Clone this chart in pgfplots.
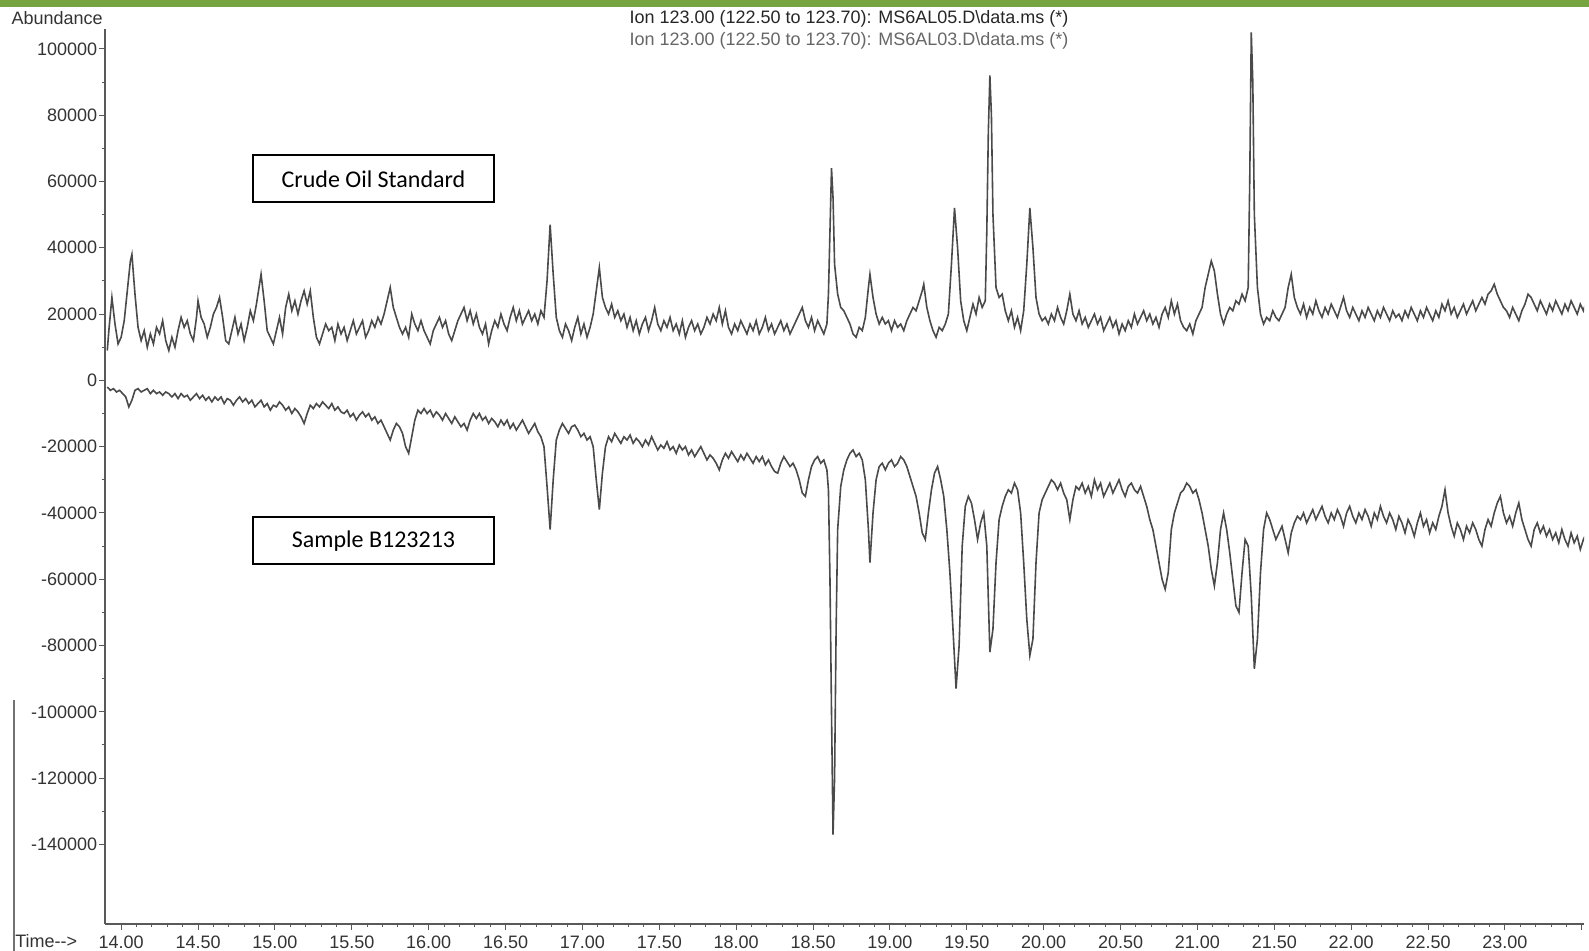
\documentclass[border=0pt]{standalone}
\usepackage{fontspec}
\setmainfont{Liberation Sans}
\newfontfamily\calib{Carlito}
\usepackage{pgfplots}
\usepackage{pgfplotstable}
\pgfplotsset{compat=1.18}
\definecolor{trace}{HTML}{4A4A4A}
\definecolor{txt}{HTML}{333333}
\definecolor{band}{RGB}{118,164,64}

% Crude Oil Standard (MS6AL05), abundance in thousands
\pgfplotstableread[row sep=\\]{t v\\
13.91 9\\ 13.92 15\\ 13.94 25\\ 13.96 17\\ 13.98 11\\ 14.00 13\\ 14.02 18\\ 14.04 27\\ 14.06 36\\ 14.07 38\\
14.09 26\\ 14.11 16\\ 14.13 12\\ 14.15 15\\ 14.17 10\\ 14.19 14\\ 14.21 11\\ 14.23 16\\ 14.25 14\\ 14.27 18\\
14.29 12\\ 14.31 9\\ 14.33 13\\ 14.35 10\\ 14.37 15\\ 14.39 19\\ 14.41 16\\ 14.43 18\\ 14.45 14\\ 14.47 12\\
14.49 19\\ 14.50 24\\ 14.52 19\\ 14.54 17\\ 14.56 13\\ 14.58 16\\ 14.60 20\\ 14.62 22\\ 14.64 25\\ 14.66 19\\
14.68 12\\ 14.70 11\\ 14.72 15\\ 14.74 19\\ 14.76 14\\ 14.78 17\\ 14.80 12\\ 14.82 16\\ 14.84 21\\ 14.86 18\\
14.88 23\\ 14.91 32\\ 14.93 24\\ 14.95 15\\ 14.97 13\\ 14.99 11\\ 15.01 15\\ 15.03 19\\ 15.05 14\\ 15.07 22\\
15.09 26\\ 15.11 21\\ 15.13 24\\ 15.15 20\\ 15.17 24\\ 15.19 27\\ 15.21 23\\ 15.23 27\\ 15.25 19\\ 15.27 13\\
15.29 11\\ 15.31 14\\ 15.33 17\\ 15.35 15\\ 15.37 16\\ 15.39 12\\ 15.41 17\\ 15.43 14\\ 15.45 16\\ 15.47 12\\
15.49 15\\ 15.51 18\\ 15.53 14\\ 15.55 16\\ 15.57 18\\ 15.59 13\\ 15.61 15\\ 15.63 18\\ 15.65 16\\ 15.67 19\\
15.69 17\\ 15.71 20\\ 15.73 24\\ 15.75 28\\ 15.77 22\\ 15.79 19\\ 15.81 16\\ 15.83 14\\ 15.85 16\\ 15.87 13\\
15.89 20\\ 15.91 17\\ 15.93 15\\ 15.95 18\\ 15.97 15\\ 15.99 13\\ 16.01 11\\ 16.03 15\\ 16.05 17\\ 16.07 19\\
16.09 16\\ 16.11 18\\ 16.13 14\\ 16.15 12\\ 16.17 15\\ 16.19 18\\ 16.21 20\\ 16.23 22\\ 16.25 18\\ 16.27 21\\
16.29 17\\ 16.31 20\\ 16.33 16\\ 16.35 14\\ 16.37 17\\ 16.39 11\\ 16.41 15\\ 16.43 18\\ 16.45 16\\ 16.47 20\\
16.49 17\\ 16.51 15\\ 16.53 19\\ 16.55 22\\ 16.57 18\\ 16.59 21\\ 16.61 17\\ 16.63 19\\ 16.65 21\\ 16.67 18\\
16.69 20\\ 16.71 17\\ 16.73 21\\ 16.75 19\\ 16.77 30\\ 16.79 47\\ 16.81 32\\ 16.83 19\\ 16.85 15\\ 16.87 13\\
16.89 17\\ 16.91 15\\ 16.93 12\\ 16.95 16\\ 16.97 19\\ 16.99 14\\ 17.01 17\\ 17.03 13\\ 17.05 16\\ 17.07 20\\
17.09 27\\ 17.11 34\\ 17.13 25\\ 17.15 22\\ 17.17 20\\ 17.19 23\\ 17.21 19\\ 17.23 21\\ 17.25 18\\ 17.27 20\\
17.29 16\\ 17.31 19\\ 17.33 15\\ 17.35 18\\ 17.37 14\\ 17.39 17\\ 17.41 19\\ 17.43 15\\ 17.45 18\\ 17.47 22\\
17.49 17\\ 17.51 15\\ 17.53 18\\ 17.55 16\\ 17.57 19\\ 17.59 15\\ 17.61 17\\ 17.63 14\\ 17.65 18\\ 17.67 13\\
17.69 16\\ 17.71 18\\ 17.73 15\\ 17.75 17\\ 17.77 14\\ 17.79 16\\ 17.81 19\\ 17.83 17\\ 17.85 20\\ 17.87 18\\
17.89 22\\ 17.91 17\\ 17.93 21\\ 17.95 16\\ 17.97 14\\ 17.99 17\\ 18.01 15\\ 18.03 18\\ 18.05 16\\ 18.07 14\\
18.09 17\\ 18.11 15\\ 18.13 18\\ 18.15 14\\ 18.17 16\\ 18.19 19\\ 18.21 15\\ 18.23 17\\ 18.25 14\\ 18.27 16\\
18.29 18\\ 18.31 15\\ 18.33 17\\ 18.35 14\\ 18.37 16\\ 18.39 18\\ 18.41 20\\ 18.43 22\\ 18.45 18\\ 18.47 16\\
18.49 19\\ 18.51 15\\ 18.53 18\\ 18.55 16\\ 18.57 14\\ 18.59 17\\ 18.60 26\\ 18.61 45\\ 18.62 64\\ 18.63 55\\
18.64 35\\ 18.66 26\\ 18.68 22\\ 18.70 21\\ 18.72 19\\ 18.74 17\\ 18.76 14\\ 18.78 13\\ 18.80 16\\ 18.82 15\\
18.84 19\\ 18.86 28\\ 18.87 32\\ 18.89 25\\ 18.91 20\\ 18.93 17\\ 18.95 19\\ 18.97 17\\ 18.99 18\\ 19.01 15\\
19.03 18\\ 19.05 16\\ 19.07 17\\ 19.09 15\\ 19.11 18\\ 19.13 20\\ 19.15 22\\ 19.17 21\\ 19.19 24\\ 19.21 27\\
19.22 29\\ 19.24 22\\ 19.26 18\\ 19.28 15\\ 19.30 13\\ 19.32 16\\ 19.34 15\\ 19.36 17\\ 19.38 20\\ 19.40 35\\
19.42 52\\ 19.44 40\\ 19.46 24\\ 19.48 18\\ 19.50 15\\ 19.52 19\\ 19.54 23\\ 19.56 20\\ 19.58 25\\ 19.60 22\\
19.62 24\\ 19.63 45\\ 19.64 75\\ 19.65 92\\ 19.66 80\\ 19.67 50\\ 19.69 28\\ 19.71 25\\ 19.73 26\\ 19.75 21\\
19.77 18\\ 19.79 21\\ 19.81 16\\ 19.83 19\\ 19.85 15\\ 19.87 21\\ 19.89 35\\ 19.91 52\\ 19.93 40\\ 19.95 25\\
19.97 20\\ 19.99 18\\ 20.01 19\\ 20.03 17\\ 20.05 20\\ 20.07 18\\ 20.09 22\\ 20.11 19\\ 20.13 17\\ 20.15 21\\
20.17 26\\ 20.19 20\\ 20.21 18\\ 20.23 21\\ 20.25 17\\ 20.27 19\\ 20.29 16\\ 20.31 18\\ 20.33 20\\ 20.35 17\\
20.37 19\\ 20.39 15\\ 20.41 17\\ 20.43 19\\ 20.45 16\\ 20.47 18\\ 20.49 14\\ 20.51 17\\ 20.53 15\\ 20.55 18\\
20.57 16\\ 20.59 20\\ 20.61 17\\ 20.63 19\\ 20.65 21\\ 20.67 18\\ 20.69 20\\ 20.71 17\\ 20.73 19\\ 20.75 16\\
20.77 20\\ 20.79 22\\ 20.81 19\\ 20.83 24\\ 20.85 20\\ 20.87 23\\ 20.89 18\\ 20.91 16\\ 20.93 15\\ 20.95 17\\
20.97 14\\ 20.99 18\\ 21.01 20\\ 21.03 22\\ 21.05 28\\ 21.07 32\\ 21.09 36\\ 21.11 33\\ 21.13 26\\ 21.15 20\\
21.17 17\\ 21.19 20\\ 21.21 22\\ 21.23 21\\ 21.25 24\\ 21.27 23\\ 21.29 26\\ 21.31 24\\ 21.33 28\\ 21.34 60\\
21.35 105\\ 21.36 90\\ 21.37 50\\ 21.39 28\\ 21.41 20\\ 21.43 17\\ 21.45 19\\ 21.47 18\\ 21.49 21\\ 21.51 19\\
21.53 18\\ 21.55 20\\ 21.57 22\\ 21.59 28\\ 21.61 32\\ 21.63 25\\ 21.65 22\\ 21.67 20\\ 21.69 23\\ 21.71 19\\
21.73 22\\ 21.75 20\\ 21.77 24\\ 21.79 21\\ 21.81 19\\ 21.83 22\\ 21.85 20\\ 21.87 23\\ 21.89 21\\ 21.91 19\\
21.93 22\\ 21.95 25\\ 21.97 21\\ 21.99 19\\ 22.01 22\\ 22.03 20\\ 22.05 18\\ 22.07 21\\ 22.09 19\\ 22.11 22\\
22.13 20\\ 22.15 18\\ 22.17 21\\ 22.19 19\\ 22.21 22\\ 22.23 20\\ 22.25 18\\ 22.27 21\\ 22.29 19\\ 22.31 20\\
22.33 18\\ 22.35 21\\ 22.37 19\\ 22.39 22\\ 22.41 20\\ 22.43 18\\ 22.45 21\\ 22.47 19\\ 22.49 22\\ 22.51 20\\
22.53 18\\ 22.55 21\\ 22.57 19\\ 22.59 23\\ 22.61 21\\ 22.63 24\\ 22.65 20\\ 22.67 22\\ 22.69 19\\ 22.71 21\\
22.73 23\\ 22.75 20\\ 22.77 22\\ 22.79 24\\ 22.81 21\\ 22.83 23\\ 22.85 25\\ 22.87 23\\ 22.89 26\\ 22.91 27\\
22.93 29\\ 22.95 26\\ 22.97 24\\ 22.99 22\\ 23.01 21\\ 23.03 19\\ 23.05 22\\ 23.07 20\\ 23.09 18\\ 23.11 21\\
23.13 23\\ 23.15 26\\ 23.17 25\\ 23.19 23\\ 23.21 21\\ 23.23 24\\ 23.25 22\\ 23.27 20\\ 23.29 23\\ 23.31 21\\
23.33 24\\ 23.35 22\\ 23.37 20\\ 23.39 23\\ 23.41 21\\ 23.43 24\\ 23.45 22\\ 23.47 20\\ 23.49 23\\ 23.51 21\\
23.53 24\\
}\uppertrace

% Sample B123213 (MS6AL03), plotted inverted, abundance in thousands
\pgfplotstableread[row sep=\\]{t v\\
13.91 -2\\ 13.93 -3\\ 13.95 -2.5\\ 13.97 -3.5\\ 13.99 -3\\ 14.01 -4\\ 14.03 -5\\ 14.05 -8\\ 14.07 -6\\ 14.09 -3\\
14.11 -2.5\\ 14.13 -3.5\\ 14.15 -3\\ 14.17 -2.5\\ 14.19 -4\\ 14.21 -3\\ 14.23 -4\\ 14.25 -3.5\\ 14.27 -4.5\\ 14.29 -3.5\\
14.31 -4\\ 14.33 -5\\ 14.35 -4\\ 14.37 -5.5\\ 14.39 -4\\ 14.41 -5\\ 14.43 -4.5\\ 14.45 -6\\ 14.47 -5\\ 14.49 -4\\
14.51 -5.5\\ 14.53 -4.5\\ 14.55 -6\\ 14.57 -5\\ 14.59 -6.5\\ 14.61 -5\\ 14.63 -6\\ 14.65 -5\\ 14.67 -7\\ 14.69 -5.5\\
14.71 -6\\ 14.73 -7.5\\ 14.75 -6\\ 14.77 -5\\ 14.79 -6.5\\ 14.81 -5.5\\ 14.83 -7\\ 14.85 -6\\ 14.87 -8\\ 14.89 -7\\
14.91 -6\\ 14.93 -8\\ 14.95 -7\\ 14.97 -9\\ 14.99 -7.5\\ 15.01 -8\\ 15.03 -6.5\\ 15.05 -7.5\\ 15.07 -9\\ 15.09 -8\\
15.11 -10\\ 15.13 -8.5\\ 15.15 -9.5\\ 15.17 -11\\ 15.19 -13\\ 15.21 -10\\ 15.23 -7.5\\ 15.25 -8.5\\ 15.27 -7\\ 15.29 -8\\
15.31 -6.5\\ 15.33 -7.5\\ 15.35 -8.5\\ 15.37 -7\\ 15.39 -9\\ 15.41 -8\\ 15.43 -9.5\\ 15.45 -10\\ 15.47 -9\\ 15.49 -11\\
15.51 -10\\ 15.53 -12\\ 15.55 -10.5\\ 15.57 -9.5\\ 15.59 -11\\ 15.61 -10\\ 15.63 -12\\ 15.65 -11\\ 15.67 -13\\ 15.69 -12\\
15.71 -14\\ 15.73 -16\\ 15.75 -18\\ 15.77 -15\\ 15.79 -13\\ 15.81 -14\\ 15.83 -16\\ 15.85 -20\\ 15.87 -22\\ 15.89 -17\\
15.91 -12\\ 15.93 -9\\ 15.95 -10\\ 15.97 -8.5\\ 15.99 -10\\ 16.01 -9\\ 16.03 -11\\ 16.05 -9.5\\ 16.07 -10.5\\ 16.09 -12\\
16.11 -10\\ 16.13 -11.5\\ 16.15 -13\\ 16.17 -11\\ 16.19 -12.5\\ 16.21 -14\\ 16.23 -13\\ 16.25 -15\\ 16.27 -12\\ 16.29 -10\\
16.31 -11.5\\ 16.33 -10\\ 16.35 -12\\ 16.37 -11\\ 16.39 -13\\ 16.41 -11.5\\ 16.43 -12.5\\ 16.45 -14\\ 16.47 -12\\ 16.49 -13.5\\
16.51 -12\\ 16.53 -14.5\\ 16.55 -13\\ 16.57 -15\\ 16.59 -13.5\\ 16.61 -12\\ 16.63 -14\\ 16.65 -16\\ 16.67 -14.5\\ 16.69 -13\\
16.71 -15.5\\ 16.73 -17\\ 16.75 -20\\ 16.77 -32\\ 16.79 -45\\ 16.81 -30\\ 16.83 -18\\ 16.85 -15\\ 16.87 -13\\ 16.89 -14.5\\
16.91 -16\\ 16.93 -14\\ 16.95 -13.5\\ 16.97 -15\\ 16.99 -17\\ 17.01 -16\\ 17.03 -18\\ 17.05 -17\\ 17.07 -20\\ 17.09 -30\\
17.11 -39\\ 17.13 -28\\ 17.15 -20\\ 17.17 -17\\ 17.19 -18.5\\ 17.21 -16\\ 17.23 -17.5\\ 17.25 -19\\ 17.27 -17\\ 17.29 -18\\
17.31 -16.5\\ 17.33 -19\\ 17.35 -17.5\\ 17.37 -18.5\\ 17.39 -20\\ 17.41 -18\\ 17.43 -19.5\\ 17.45 -17\\ 17.47 -19\\ 17.49 -21\\
17.51 -19.5\\ 17.53 -20.5\\ 17.55 -18.5\\ 17.57 -21\\ 17.59 -20\\ 17.61 -22\\ 17.63 -19.5\\ 17.65 -21\\ 17.67 -20\\ 17.69 -22.5\\
17.71 -21\\ 17.73 -23\\ 17.75 -21.5\\ 17.77 -20\\ 17.79 -22\\ 17.81 -24\\ 17.83 -22.5\\ 17.85 -23.5\\ 17.87 -25\\ 17.89 -27\\
17.91 -24\\ 17.93 -22\\ 17.95 -23.5\\ 17.97 -21.5\\ 17.99 -23\\ 18.01 -24.5\\ 18.03 -22.5\\ 18.05 -24\\ 18.07 -22\\ 18.09 -23.5\\
18.11 -25\\ 18.13 -23\\ 18.15 -24.5\\ 18.17 -23\\ 18.19 -25.5\\ 18.21 -24\\ 18.23 -26\\ 18.25 -27.5\\ 18.27 -28\\ 18.29 -25\\
18.31 -23\\ 18.33 -24.5\\ 18.35 -26\\ 18.37 -25\\ 18.39 -27\\ 18.41 -30\\ 18.43 -34\\ 18.45 -35\\ 18.47 -30\\ 18.49 -26\\
18.51 -24\\ 18.53 -23\\ 18.55 -25\\ 18.57 -24\\ 18.59 -27\\ 18.60 -33\\ 18.61 -60\\ 18.62 -100\\ 18.63 -137\\ 18.64 -120\\
18.65 -75\\ 18.66 -45\\ 18.68 -32\\ 18.70 -27\\ 18.72 -24\\ 18.74 -22\\ 18.76 -21\\ 18.78 -23\\ 18.80 -22\\ 18.82 -24\\
18.84 -30\\ 18.86 -45\\ 18.87 -55\\ 18.89 -40\\ 18.91 -30\\ 18.93 -26\\ 18.95 -25\\ 18.97 -27\\ 18.99 -25\\ 19.01 -24\\
19.03 -26\\ 19.05 -25\\ 19.07 -23\\ 19.09 -24\\ 19.11 -26\\ 19.13 -29\\ 19.15 -32\\ 19.17 -35\\ 19.19 -40\\ 19.21 -46\\
19.23 -48\\ 19.25 -40\\ 19.27 -33\\ 19.29 -28\\ 19.31 -26\\ 19.33 -30\\ 19.35 -35\\ 19.37 -45\\ 19.39 -58\\ 19.41 -75\\
19.43 -93\\ 19.45 -80\\ 19.47 -50\\ 19.49 -38\\ 19.51 -35\\ 19.53 -37\\ 19.55 -42\\ 19.57 -48\\ 19.59 -43\\ 19.61 -40\\
19.63 -50\\ 19.65 -82\\ 19.67 -75\\ 19.69 -55\\ 19.71 -42\\ 19.73 -38\\ 19.75 -35\\ 19.77 -33\\ 19.79 -34\\ 19.81 -31\\
19.83 -33\\ 19.85 -40\\ 19.87 -55\\ 19.89 -72\\ 19.91 -83\\ 19.93 -78\\ 19.95 -55\\ 19.97 -40\\ 19.99 -36\\ 20.01 -34\\
20.03 -32\\ 20.05 -30\\ 20.07 -31\\ 20.09 -33\\ 20.11 -31\\ 20.13 -34\\ 20.15 -36\\ 20.17 -42\\ 20.19 -36\\ 20.21 -32\\
20.23 -33\\ 20.25 -31\\ 20.27 -34\\ 20.29 -32\\ 20.31 -35\\ 20.33 -30\\ 20.35 -33\\ 20.37 -31\\ 20.39 -35\\ 20.41 -33\\
20.43 -31\\ 20.45 -34\\ 20.47 -32\\ 20.49 -30\\ 20.51 -33\\ 20.53 -35\\ 20.55 -32\\ 20.57 -31\\ 20.59 -33\\ 20.61 -34\\
20.63 -32\\ 20.65 -35\\ 20.67 -38\\ 20.69 -42\\ 20.71 -45\\ 20.73 -50\\ 20.75 -55\\ 20.77 -60\\ 20.79 -63\\ 20.81 -58\\
20.83 -45\\ 20.85 -40\\ 20.87 -37\\ 20.89 -34\\ 20.91 -33\\ 20.93 -31\\ 20.95 -32\\ 20.97 -34\\ 20.99 -33\\ 21.01 -36\\
21.03 -40\\ 21.05 -45\\ 21.07 -50\\ 21.09 -57\\ 21.11 -62\\ 21.13 -55\\ 21.15 -45\\ 21.17 -40\\ 21.19 -45\\ 21.21 -52\\
21.23 -60\\ 21.25 -68\\ 21.27 -70\\ 21.29 -58\\ 21.31 -48\\ 21.33 -50\\ 21.35 -65\\ 21.37 -87\\ 21.39 -78\\ 21.41 -58\\
21.43 -45\\ 21.45 -40\\ 21.47 -42\\ 21.49 -45\\ 21.51 -48\\ 21.53 -46\\ 21.55 -44\\ 21.57 -48\\ 21.59 -52\\ 21.61 -46\\
21.63 -43\\ 21.65 -41\\ 21.67 -42\\ 21.69 -40\\ 21.71 -43\\ 21.73 -41\\ 21.75 -39\\ 21.77 -42\\ 21.79 -40\\ 21.81 -38\\
21.83 -41\\ 21.85 -43\\ 21.87 -40\\ 21.89 -42\\ 21.91 -39\\ 21.93 -41\\ 21.95 -44\\ 21.97 -40\\ 21.99 -38\\ 22.01 -41\\
22.03 -43\\ 22.05 -40\\ 22.07 -42\\ 22.09 -39\\ 22.11 -41\\ 22.13 -44\\ 22.15 -40\\ 22.17 -42\\ 22.19 -38\\ 22.21 -41\\
22.23 -43\\ 22.25 -40\\ 22.27 -42\\ 22.29 -45\\ 22.31 -41\\ 22.33 -43\\ 22.35 -46\\ 22.37 -42\\ 22.39 -44\\ 22.41 -47\\
22.43 -43\\ 22.45 -40\\ 22.47 -44\\ 22.49 -42\\ 22.51 -46\\ 22.53 -43\\ 22.55 -45\\ 22.57 -41\\ 22.59 -38\\ 22.61 -33\\
22.63 -40\\ 22.65 -44\\ 22.67 -47\\ 22.69 -43\\ 22.71 -45\\ 22.73 -48\\ 22.75 -44\\ 22.77 -46\\ 22.79 -43\\ 22.81 -45\\
22.83 -48\\ 22.85 -50\\ 22.87 -45\\ 22.89 -42\\ 22.91 -44\\ 22.93 -40\\ 22.95 -37\\ 22.97 -35\\ 22.99 -40\\ 23.01 -43\\
23.03 -41\\ 23.05 -44\\ 23.07 -40\\ 23.09 -37\\ 23.11 -42\\ 23.13 -45\\ 23.15 -48\\ 23.17 -50\\ 23.19 -45\\ 23.21 -43\\
23.23 -46\\ 23.25 -44\\ 23.27 -47\\ 23.29 -45\\ 23.31 -48\\ 23.33 -46\\ 23.35 -49\\ 23.37 -45\\ 23.39 -48\\ 23.41 -50\\
23.43 -46\\ 23.45 -49\\ 23.47 -47\\ 23.49 -51\\ 23.51 -48\\ 23.53 -46\\
}\lowertrace

\begin{document}
\begin{tikzpicture}
\path[use as bounding box] (-52.5pt,-13.5pt) rectangle (742pt,462pt);
\fill[band] (-52.5pt,458.5pt) rectangle (742pt,462pt);
\begin{axis}[
  at={(0,0)}, anchor=south west,
  scale only axis, width=739.5pt, height=447.5pt,
  xmin=13.895, xmax=23.514, ymin=-164, ymax=106,
  axis lines*=left,
  axis line style={color=black!65, line width=0.6pt},
  tick align=outside,
  major tick length=3pt, minor tick length=1.6pt,
  every tick/.style={color=black!65, line width=0.5pt},
  xtick={14,14.5,...,23.5},
  xticklabels={14.00,14.50,15.00,15.50,16.00,16.50,17.00,17.50,18.00,18.50,19.00,19.50,20.00,20.50,21.00,21.50,22.00,22.50,23.00,{}},
  minor x tick num=4,
  ytick={-140,-120,...,100},
  yticklabels={-140000,-120000,-100000,-80000,-60000,-40000,-20000,0,20000,40000,60000,80000,100000},
  minor y tick num=1,
  ticklabel style={font=\fontsize{9}{10}\selectfont, text=txt},
  xticklabel style={yshift=0.8pt},
  yticklabel style={xshift=2.6pt},
]
\addplot[trace, line width=0.8pt] table[x=t, y=v] {\uppertrace};
\addplot[trace, line width=0.8pt] table[x=t, y=v] {\lowertrace};
\end{axis}
\node[anchor=east, font=\fontsize{9}{10}\selectfont, text=txt, inner sep=0pt] at (-1pt,453pt) {Abundance};
\node[anchor=west, font=\fontsize{9}{10}\selectfont, text=txt, inner sep=0pt] at (-45pt,-8.5pt) {Time{-}{-}>};
\node[font=\fontsize{9}{10}\selectfont, text=black!85, inner sep=0pt] at (372pt,452.5pt) {Ion 123.00 (122.50 to 123.70): MS6AL05.D\textbackslash data.ms (*)};
\node[font=\fontsize{9}{10}\selectfont, text=black!60, inner sep=0pt] at (372pt,441.8pt) {Ion 123.00 (122.50 to 123.70): MS6AL03.D\textbackslash data.ms (*)};
\node[draw=black, line width=1pt, fill=white, minimum width=120.5pt, minimum height=23.5pt, inner sep=0pt, font=\calib\fontsize{12}{14}\selectfont] at (134.25pt,372.5pt) {Crude Oil Standard};
\node[draw=black, line width=1pt, fill=white, minimum width=120.5pt, minimum height=23.5pt, inner sep=0pt, font=\calib\fontsize{12}{14}\selectfont] at (134.25pt,191.5pt) {Sample B123213};
\draw[black!55, line width=0.6pt] (-45.5pt,112pt) -- (-45.5pt,-13.5pt);
\end{tikzpicture}
\end{document}
